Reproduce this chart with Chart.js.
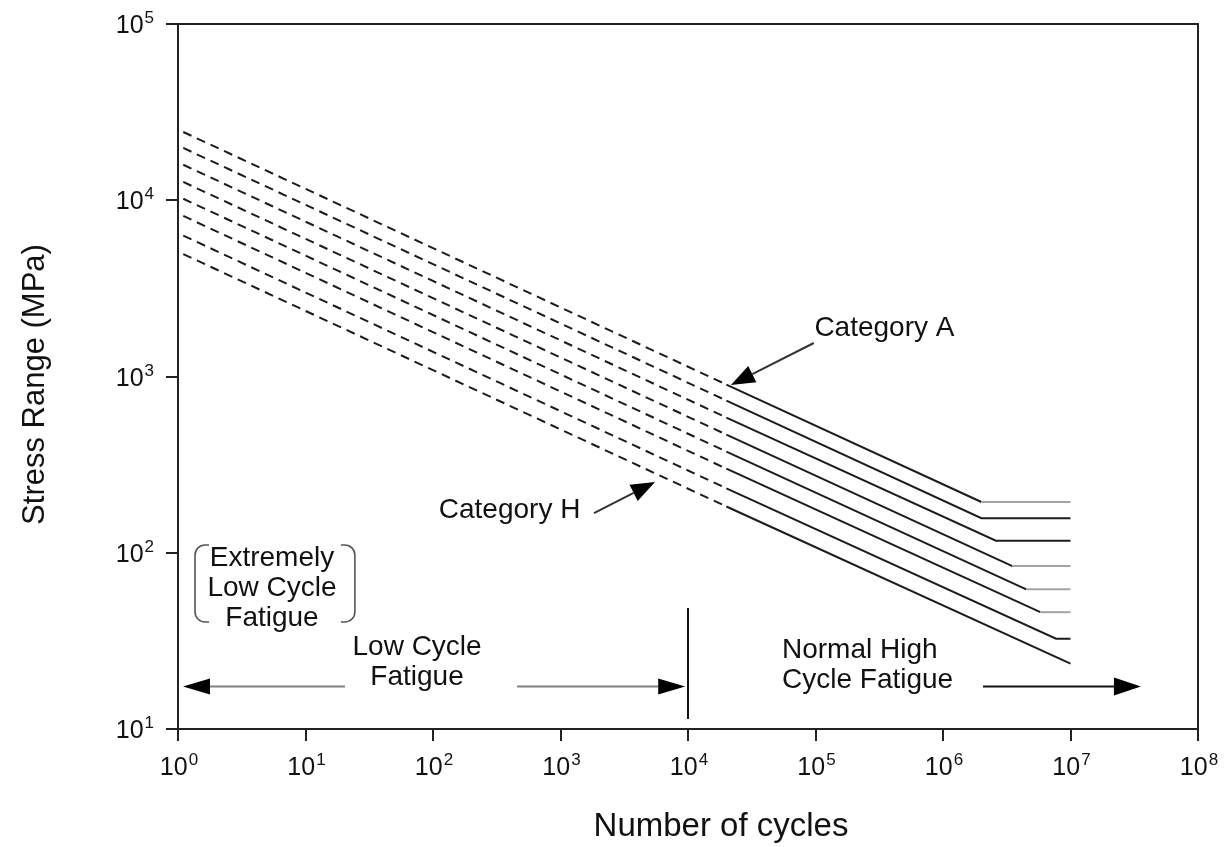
<!DOCTYPE html>
<html lang="en">
<head>
<meta charset="UTF-8">
<title>Fatigue S-N curves</title>
<script src="https://cdn.jsdelivr.net/npm/chart.js"></script>
<style>
  html, body { margin: 0; padding: 0; background: #fff; }
  #wrap { width: 1226px; height: 847px; }
</style>
</head>
<body>
<div id="wrap"><canvas id="snChart"></canvas></div>
<script>
// axis ticks (powers of ten)
const cycleTicks = [1, 10, 100, 1e3, 1e4, 1e5, 1e6, 1e7, 1e8];
const stressTicks = [10, 100, 1e3, 1e4, 1e5];

// detail categories, top curve (A) down to bottom curve (H)
const categories = ['A', 'B', 'C', 'D', 'E', 'F', 'G', 'H'];
// stress range where the dashed extension starts (just right of N = 1)
const dashStartCycles = 1.1;
const stressAtStart = [24400, 19800, 15900, 12700, 10200, 8150, 6300, 4950];
// dashed part ends / solid S-N line begins here
const solidStartCycles = 2e4;
const stressAtSolidStart = [900, 730, 585, 468, 375, 300, 232, 183];
// knee where the constant amplitude threshold starts
const kneeCycles = [2.0e6, 2.0e6, 2.6e6, 3.5e6, 4.5e6, 5.8e6, 7.7e6, 1e7];
const thresholdStress = [194, 157, 117, 84, 62, 46, 32.5, 23.5];
const lastCycles = 1e7;

// styling only: which threshold lines are drawn light grey
const greyPlateau = [true, false, false, true, true, true, false, false];

const FONT = "'Liberation Sans', Arial, sans-serif";
const INK = '#111';

const datasets = categories.map((cat, i) => {
    const pts = [
        {x: dashStartCycles, y: stressAtStart[i]},
        {x: solidStartCycles, y: stressAtSolidStart[i]},
        {x: kneeCycles[i], y: thresholdStress[i]}
    ];
    if (kneeCycles[i] < lastCycles) pts.push({x: lastCycles, y: thresholdStress[i]});
    return {
        label: 'Category ' + cat,
        data: pts,
        borderColor: '#1c1c1c',
        borderWidth: 2,
        pointRadius: 0,
        tension: 0,
        fill: false,
        segment: {
            borderDash: ctx => ctx.p1.parsed.x <= solidStartCycles ? [9, 6] : [],
            borderColor: ctx => (ctx.p0.parsed.y === ctx.p1.parsed.y && greyPlateau[i]) ? '#a3a3a3' : '#1c1c1c'
        }
    };
});

// annotation helpers
function arrow(ctx, x0, y0, x1, y1, lineColor, len, half) {
    const ang = Math.atan2(y1 - y0, x1 - x0);
    const bx = x1 - Math.cos(ang) * len, by = y1 - Math.sin(ang) * len;
    ctx.strokeStyle = lineColor;
    ctx.lineWidth = 2;
    ctx.beginPath();
    ctx.moveTo(x0, y0);
    ctx.lineTo(bx, by);
    ctx.stroke();
    ctx.fillStyle = '#000';
    ctx.beginPath();
    ctx.moveTo(x1, y1);
    ctx.lineTo(bx + Math.sin(ang) * half, by - Math.cos(ang) * half);
    ctx.lineTo(bx - Math.sin(ang) * half, by + Math.cos(ang) * half);
    ctx.closePath();
    ctx.fill();
}

// "10" with a raised exponent; align = 'center' or 'right'
function powText(ctx, v, x, y, align) {
    const e = String(Math.round(Math.log10(v)));
    ctx.font = '25px ' + FONT;
    const wb = ctx.measureText('10').width;
    ctx.font = '17px ' + FONT;
    const we = ctx.measureText(e).width;
    const total = wb + we + 1;
    const x0 = align === 'right' ? x - total : x - total / 2;
    ctx.textAlign = 'left';
    ctx.textBaseline = 'alphabetic';
    ctx.font = '25px ' + FONT;
    ctx.fillText('10', x0, y + 9);
    ctx.font = '17px ' + FONT;
    ctx.fillText(e, x0 + wb + 1, y - 1);
}

const notesPlugin = {
    id: 'fatigueNotes',
    afterDatasetsDraw(chart) {
        const {ctx, chartArea: a, scales: {x, y}} = chart;
        const px = v => x.getPixelForValue(v);
        const py = v => y.getPixelForValue(v);
        ctx.save();

        // top and right frame
        ctx.strokeStyle = '#222';
        ctx.lineWidth = 2;
        ctx.beginPath();
        ctx.moveTo(a.left, a.top);
        ctx.lineTo(a.right, a.top);
        ctx.lineTo(a.right, a.bottom);
        ctx.stroke();

        // tick labels
        ctx.fillStyle = INK;
        x.ticks.forEach(t => powText(ctx, t.value, px(t.value) + 1, a.bottom + 37, 'center'));
        y.ticks.forEach(t => powText(ctx, t.value, a.left - 24, py(t.value), 'right'));

        ctx.fillStyle = INK;
        ctx.font = '28px ' + FONT;
        ctx.textBaseline = 'middle';

        // category labels + arrows
        ctx.textAlign = 'left';
        ctx.fillText('Category A', px(9.8e4), py(1880));
        arrow(ctx, px(9.7e4), py(1549), px(2.17e4), py(895), '#333', 24, 9);
        ctx.fillStyle = INK;
        ctx.fillText('Category H', px(111), py(175));
        arrow(ctx, px(1832), py(168), px(5510), py(252), '#333', 24, 9);

        // extremely low cycle fatigue, with bracket
        ctx.fillStyle = INK;
        ctx.textAlign = 'center';
        ctx.fillText('Extremely', px(5.46), py(93.3));
        ctx.fillText('Low Cycle', px(5.46), py(63.1));
        ctx.fillText('Fatigue', px(5.46), py(42.6));
        const bl = px(1.36), br = px(24.4), bt = py(110.7), bb = py(40.5), r = 10;
        ctx.strokeStyle = '#555';
        ctx.lineWidth = 1.6;
        ctx.beginPath();
        ctx.moveTo(bl + 14, bt);
        ctx.arcTo(bl, bt, bl, bt + r, r);
        ctx.lineTo(bl, bb - r);
        ctx.arcTo(bl, bb, bl + 14, bb, r);
        ctx.lineTo(bl + 14, bb);
        ctx.moveTo(br - 14, bt);
        ctx.arcTo(br, bt, br, bt + r, r);
        ctx.lineTo(br, bb - r);
        ctx.arcTo(br, bb, br - 14, bb, r);
        ctx.lineTo(br - 14, bb);
        ctx.stroke();

        // low cycle fatigue region
        ctx.fillStyle = INK;
        ctx.fillText('Low Cycle', px(75), py(29.2));
        ctx.fillText('Fatigue', px(75), py(19.7));
        arrow(ctx, px(20.4), py(17.4), px(1.094), py(17.4), '#808080', 27, 8);
        arrow(ctx, px(456), py(17.4), px(9.5e3), py(17.4), '#808080', 27, 8);

        // divider at 10^4 cycles
        ctx.strokeStyle = '#111';
        ctx.lineWidth = 2;
        ctx.beginPath();
        ctx.moveTo(px(1e4), py(48.6));
        ctx.lineTo(px(1e4), py(11.4));
        ctx.stroke();

        // normal high cycle fatigue
        ctx.fillStyle = INK;
        ctx.textAlign = 'left';
        ctx.fillText('Normal High', px(5.46e4), py(28.1));
        ctx.fillText('Cycle Fatigue', px(5.46e4), py(19.0));
        arrow(ctx, px(2.06e6), py(17.4), px(3.57e7), py(17.4), '#111', 27, 9);

        // axis titles
        ctx.fillStyle = INK;
        ctx.textAlign = 'center';
        ctx.font = '33px ' + FONT;
        ctx.fillText('Number of cycles', (a.left + a.right) / 2 + 33, a.bottom + 98);
        ctx.font = '31px ' + FONT;
        ctx.translate(35, (a.top + a.bottom) / 2 + 8);
        ctx.rotate(-Math.PI / 2);
        ctx.fillText('Stress Range (MPa)', 0, 0);

        ctx.restore();
    }
};

const axisLine = {display: true, color: '#222', width: 2};
const tickGrid = {display: true, drawOnChartArea: false, drawTicks: true, tickLength: 12, tickColor: '#222', lineWidth: 2};

new Chart(document.getElementById('snChart'), {
    type: 'line',
    data: {datasets: datasets},
    plugins: [notesPlugin],
    options: {
        responsive: true,
        maintainAspectRatio: false,
        animation: false,
        layout: {padding: {left: 0, right: 28, top: 24, bottom: 0}},
        plugins: {legend: {display: false}, tooltip: {enabled: false}},
        scales: {
            x: {
                type: 'logarithmic',
                min: 1,
                max: 1e8,
                afterBuildTicks: s => { s.ticks = cycleTicks.map(v => ({value: v})); },
                afterFit: s => { s.height = 118; },
                border: axisLine,
                grid: tickGrid,
                ticks: {display: false}
            },
            y: {
                type: 'logarithmic',
                min: 10,
                max: 1e5,
                afterBuildTicks: s => { s.ticks = stressTicks.map(v => ({value: v})); },
                afterFit: s => { s.width = 178; },
                border: axisLine,
                grid: tickGrid,
                ticks: {display: false}
            }
        }
    }
});
</script>
</body>
</html>
